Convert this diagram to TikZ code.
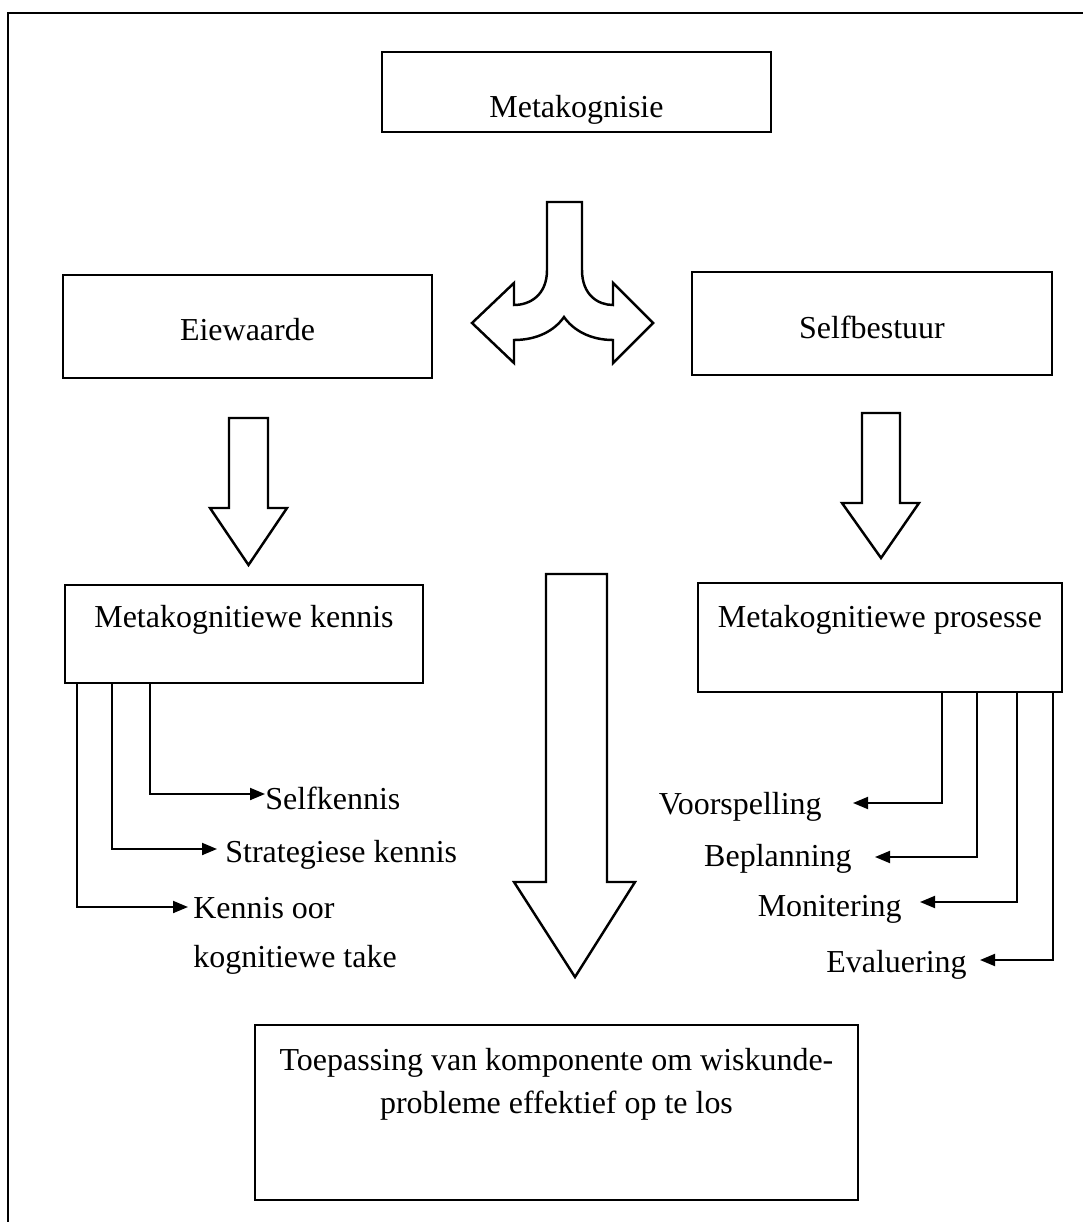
\documentclass[tikz,border=0pt]{standalone}
\usepackage{fontspec}
\setmainfont{Liberation Serif}
\usetikzlibrary{arrows.meta}
\begin{document}
\begin{tikzpicture}[x=0.02cm,y=-0.02cm,
  bx/.style 2 args={draw,line width=1.1pt,inner sep=0pt,rectangle,minimum width=#1*0.02cm,minimum height=#2*0.02cm},
  lbl/.style={font=\fontsize{18.2}{22}\selectfont,inner sep=0pt},
  blockarrow/.style={draw,line width=1.4pt,line join=miter,fill=white},
  conn/.style={line width=1.1pt,-{Triangle[length=0.3cm,width=0.24cm]}}]
\useasboundingbox (0,0) rectangle (1083,1222);
% outer frame (top and left)
\draw[line width=1.1pt] (8,1222) -- (8,13) -- (1083,13);

% boxes
\node[bx={389}{80}] (meta) at (576.5,92) {};
\node[bx={369}{103}] (eie) at (247.5,326.5) {};
\node[bx={360}{103}] (self) at (872,323.5) {};
\node[bx={358}{98}] (kennis) at (244,634) {};
\node[bx={364}{109}] (proses) at (880,637.5) {};
\node[bx={603}{175}] (toep) at (556.5,1112.5) {};

% box labels
\node[lbl,anchor=base] (metaT) at (576.5,118) {Metakognisie};
\node[lbl,anchor=base] (eieT) at (247.5,341) {Eiewaarde};
\node[lbl,anchor=base] (selfT) at (872,339) {Selfbestuur};
\node[lbl,anchor=base] (kennisT) at (244,627) {Metakognitiewe kennis};
\node[lbl,anchor=base] (prosesT) at (880,627) {Metakognitiewe prosesse};
\node[lbl,anchor=base] (toepA) at (556.5,1070) {Toepassing van komponente om wiskunde-};
\node[lbl,anchor=base] (toepB) at (556.5,1113) {probleme effektief op te los};

% split arrow from Metakognisie
\draw[blockarrow] (547,202) -- (582,202) -- (582,270)
  .. controls (582,295) and (598,305) .. (613,305) -- (613,283) -- (653,323)
  -- (613,363) -- (613,340) .. controls (590,340) and (573,330) .. (564,317)
  .. controls (555,330) and (538,340) .. (514,340) -- (514,363) -- (472,323)
  -- (514,283) -- (514,305) .. controls (530,305) and (547,295) .. (547,270) -- cycle;

% down block arrows
\draw[blockarrow] (229,418) -- (268,418) -- (268,508) -- (287,508) -- (248.5,565)
  -- (210,508) -- (229,508) -- cycle;
\draw[blockarrow] (862,413) -- (900,413) -- (900,503) -- (919,503) -- (881,558)
  -- (842,503) -- (862,503) -- cycle;
\draw[blockarrow] (546,574) -- (607,574) -- (607,882) -- (635,882) -- (575,977)
  -- (514,882) -- (546,882) -- cycle;

% left branch labels
\node[lbl,anchor=base west] (sk) at (265,809) {Selfkennis};
\node[lbl,anchor=base west] (stk) at (225,862) {Strategiese kennis};
\node[lbl,anchor=base west] (kok) at (193,918) {Kennis oor};
\node[lbl,anchor=base west] (kokb) at (193,967) {kognitiewe take};

% left connectors
\coordinate (cS) at (150,794); \coordinate (tS) at (265,794);
\coordinate (cT) at (112,849); \coordinate (tT) at (217,849);
\coordinate (cK) at (77,907);  \coordinate (tK) at (188,907);
\draw[conn] (kennis.south -| cS) -- (cS) -- (tS);
\draw[conn] (kennis.south -| cT) -- (cT) -- (tT);
\draw[conn] (kennis.south -| cK) -- (cK) -- (tK);

% right branch labels
\node[lbl,anchor=base east] (vs) at (822,814) {Voorspelling};
\node[lbl,anchor=base east] (bp) at (852,866) {Beplanning};
\node[lbl,anchor=base east] (mo) at (902,916) {Monitering};
\node[lbl,anchor=base east] (ev) at (967,972) {Evaluering};

% right connectors
\coordinate (cV) at (942,803);  \coordinate (tV) at (853,803);
\coordinate (cB) at (977,857);  \coordinate (tB) at (875,857);
\coordinate (cM) at (1017,902); \coordinate (tM) at (920,902);
\coordinate (cE) at (1053,960); \coordinate (tE) at (980,960);
\draw[conn] (proses.south -| cV) -- (cV) -- (tV);
\draw[conn] (proses.south -| cB) -- (cB) -- (tB);
\draw[conn] (proses.south -| cM) -- (cM) -- (tM);
\draw[conn] (proses.south -| cE) -- (cE) -- (tE);
\end{tikzpicture}
\end{document}
